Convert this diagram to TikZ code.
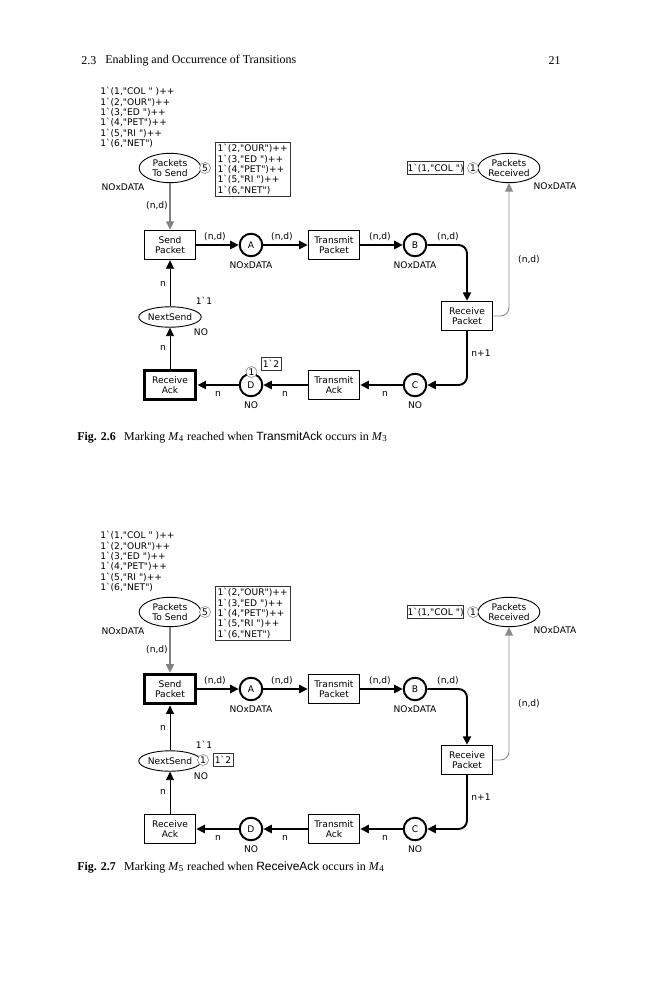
\documentclass[tikz,border=0pt]{standalone}
\usepackage{fontspec}
\setmainfont{Liberation Serif}
\setsansfont{Liberation Sans}
\newfontfamily\cpnfont{DejaVu Sans}[Ligatures=TeXOff]
\usetikzlibrary{arrows.meta,positioning,shapes.geometric}

% one copy of the protocol net; #1 = extra style of Send Packet, #2 = of Receive Ack
\newcommand{\protocolnet}[2]{%
  % places and transitions
  \node[ellipseplace] (pts) at (170,168) {Packets\\To Send};
  \node[trans, #1] (sendpkt) at (170,245) {Send\\Packet};
  \node[place] (A) at (251,245) {A};
  \node[trans] (transpkt) at (334,245) {Transmit\\Packet};
  \node[place] (B) at (415,245) {B};
  \node[trans] (recvpkt) at (467,316) {Receive\\Packet};
  \node[ellipseplace] (pr) at (509,168) {Packets\\Received};
  \node[place] (C) at (415,385) {C};
  \node[trans] (transack) at (334,385) {Transmit\\Ack};
  \node[place] (D) at (251,385) {D};
  \node[trans, #2] (recvack) at (170,385) {Receive\\Ack};
  \node[ellipseplace, minimum height=4.8mm] (nextsend) at (170,317) {NextSend};
  % colour sets and initial markings
  \node[inscr, anchor=west, align=left] (ptsinit) at (100,117.5)
    {1`(1,"COL " )++\\1`(2,"OUR")++\\1`(3,"ED ")++\\1`(4,"PET")++\\1`(5,"RI ")++\\1`(6,"NET")};
  \node[inscr] (ptstype) at (123,187) {NOxDATA};
  \node[inscr] (Atype) at (251,265) {NOxDATA};
  \node[inscr] (Btype) at (415,265) {NOxDATA};
  \node[inscr] (prtype) at (555,186) {NOxDATA};
  \node[inscr] (Ctype) at (415,405) {NO};
  \node[inscr] (Dtype) at (251,405) {NO};
  \node[inscr] (nstype) at (201,332) {NO};
  \node[inscr] (nsinit) at (204,301) {1`1};
  % current markings
  \node[tokencount] (ptscount) at (205,168) {5};
  \node[mbox, anchor=west, inner xsep=1.5pt, inner ysep=1.5pt] (ptsmark) at (215,169.5)
    {1`(2,"OUR")++\\1`(3,"ED ")++\\1`(4,"PET")++\\1`(5,"RI ")++\\1`(6,"NET")};
  \node[tokencount] (prcount) at (473,168) {1};
  \node[mbox, anchor=east] (prmark) at (464,168) {1`(1,"COL ")};
  % arcs
  \draw[arcthick, draw=black!50, line width=0.9pt] (pts) -- (sendpkt);
  \draw[arcthick] (sendpkt) -- (A);
  \draw[arcthick] (A) -- (transpkt);
  \draw[arcthick] (transpkt) -- (B);
  \draw[arcthick, rounded corners=2mm] (B) -| (recvpkt);
  \draw[arcthin, draw=black!45, rounded corners=2mm] (recvpkt.east) -| (pr);
  \draw[arcthick, rounded corners=2mm] (recvpkt) |- (C);
  \draw[arcthick] (C) -- (transack);
  \draw[arcthick] (transack) -- (D);
  \draw[arcthick] (D) -- (recvack);
  \draw[arcthin] (recvack) -- (nextsend);
  \draw[arcthin] (nextsend) -- (sendpkt);
  % arc inscriptions
  \node[inscr] (i1) at (157,206) {(n,d)};
  \node[inscr] (i2) at (215,237) {(n,d)};
  \node[inscr] (i3) at (282,237) {(n,d)};
  \node[inscr] (i4) at (380,237) {(n,d)};
  \node[inscr] (i5) at (448,237) {(n,d)};
  \node[inscr] (i6) at (529,260) {(n,d)};
  \node[inscr] (i7) at (481,353) {n+1};
  \node[inscr] (i8) at (385,394) {n};
  \node[inscr] (i9) at (285,394) {n};
  \node[inscr] (i10) at (218,394) {n};
  \node[inscr] (i11) at (163,348) {n};
  \node[inscr] (i12) at (163,284) {n};
}

\begin{document}
\begin{tikzpicture}[
    x=0.235mm, y=-0.235mm,
    inscr/.style = {font=\cpnfont\fontsize{6.1}{6.9}\selectfont, inner sep=0pt},
    place/.style = {circle, draw, line width=1.3pt, minimum size=5.3mm, inner sep=0pt, inscr},
    ellipseplace/.style = {ellipse, draw, line width=0.6pt, minimum width=14.5mm, minimum height=6.9mm, inner sep=0.3pt, align=center, inscr},
    trans/.style = {rectangle, draw, line width=1pt, minimum width=12mm, minimum height=6.8mm, align=center, inscr},
    heavy/.style = {line width=2.6pt},
    tokencount/.style = {circle, draw=black!45, line width=0.4pt, fill=white, minimum size=2.6mm, inner sep=0pt, inscr},
    mbox/.style = {rectangle, draw=black!80, line width=0.5pt, fill=white, align=left, inner xsep=1.2pt, minimum height=3.2mm, inscr},
    arcthick/.style = {-{Triangle[length=2mm, width=1.9mm]}, line width=1.3pt},
    arcthin/.style = {-{Triangle[length=2mm, width=1.9mm]}, line width=0.6pt},
    pagetext/.style = {font=\fontsize{8}{10}\selectfont, inner sep=0pt}
]
\useasboundingbox (0,0) rectangle (659,1000);

% running head
\node[pagetext, anchor=west] (secno) at (81,61) {2.3};
\node[pagetext, anchor=west] (secname) at (105,61) {Enabling and Occurrence of Transitions};
\node[pagetext, anchor=east] (pageno) at (561,61) {21};

% Fig. 2.6: marking M4
\begin{scope}[name prefix=f1-]
  \protocolnet{}{heavy}
  \node[tokencount] (Dcount) at (251.5,372) {1};
  \node[mbox, minimum width=4.7mm] (Dmark) at (271,364) {1`2};
\end{scope}
\node[pagetext, anchor=west] (cap1) at (77,437)
  {\textbf{Fig. 2.6}\hspace{0.7em}Marking \textit{M}\textsubscript{4} reached when \textsf{TransmitAck} occurs in \textit{M}\textsubscript{3}};

% Fig. 2.7: marking M5
\begin{scope}[shift={(0,444)}, name prefix=f2-]
  \protocolnet{heavy}{}
  \node[tokencount] (nscount) at (203,316) {1};
  \node[mbox, minimum width=4.7mm] (nsmark) at (223,316) {1`2};
\end{scope}
\node[pagetext, anchor=west] (cap2) at (77,867)
  {\textbf{Fig. 2.7}\hspace{0.7em}Marking \textit{M}\textsubscript{5} reached when \textsf{ReceiveAck} occurs in \textit{M}\textsubscript{4}};

\end{tikzpicture}
\end{document}
